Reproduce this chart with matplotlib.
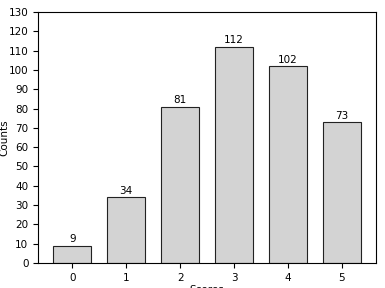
import matplotlib
matplotlib.use("Agg")
import matplotlib.pyplot as plt

scores = [0, 1, 2, 3, 4, 5]
counts = [9, 34, 81, 112, 102, 73]

plt.rcParams["font.size"] = 7.5

fig, ax = plt.subplots(figsize=(3.85, 2.88), dpi=100)
fig.subplots_adjust(left=0.099, right=0.977, top=0.958, bottom=0.087)

bars = ax.bar(scores, counts, width=0.7, color="lightgrey", edgecolor="#222222", linewidth=0.8)
ax.bar_label(bars, padding=1, fontsize=7.5)

ax.set_ylim(0, 130)
ax.set_yticks(range(0, 131, 10))
ax.set_xticks(scores)
ax.set_xlabel("Scores", labelpad=2)
ax.set_ylabel("Counts", labelpad=0)
ax.yaxis.set_label_coords(-0.085, 0.5)

fig.savefig("out.png", dpi=100)
